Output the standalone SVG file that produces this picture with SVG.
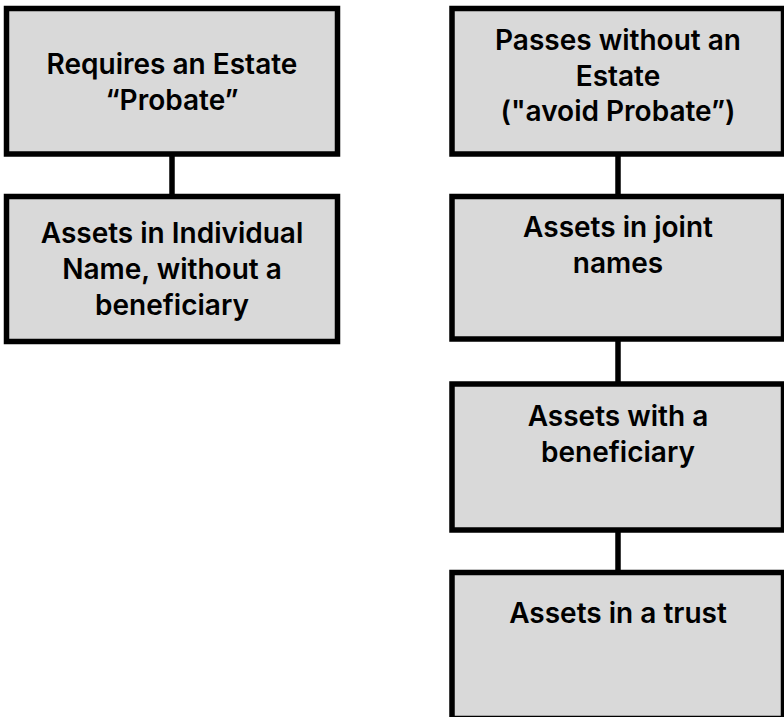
<svg xmlns="http://www.w3.org/2000/svg" width="784" height="717" viewBox="0 0 784 717">
<style>
.box{fill:#d9d9d9;stroke:#000;stroke-width:5.5}
.t{font-family:Inter,"Liberation Sans",sans-serif;font-weight:600;font-size:28px;fill:#000;text-anchor:middle}
.c{stroke:#000;stroke-width:5.5;fill:none}
</style>
<rect width="784" height="717" fill="#fff"/>
<g id="connectors">
<line class="c" x1="172" y1="154" x2="172" y2="197"/>
<line class="c" x1="618" y1="154" x2="618" y2="197"/>
<line class="c" x1="618" y1="339" x2="618" y2="384"/>
<line class="c" x1="618" y1="530" x2="618" y2="573"/>
</g>
<g id="n1">
<rect class="box" x="6.5" y="8.5" width="331" height="145.5"/>
<text class="t" x="172" y="74">Requires an Estate</text>
<text class="t" x="172" y="110">“Probate”</text>
</g>
<g id="n2">
<rect class="box" x="6.5" y="196.5" width="331" height="145"/>
<text class="t" x="172" y="243">Assets in Individual</text>
<text class="t" x="172" y="279">Name, without a</text>
<text class="t" x="172" y="315">beneficiary</text>
</g>
<g id="n3">
<rect class="box" x="452" y="8.5" width="331.5" height="145.5"/>
<text class="t" x="618" y="50">Passes without an</text>
<text class="t" x="618" y="86">Estate</text>
<text class="t" x="618" y="121">("avoid Probate”)</text>
</g>
<g id="n4">
<rect class="box" x="452" y="196.5" width="331.5" height="142.5"/>
<text class="t" x="618" y="237">Assets in joint</text>
<text class="t" x="618" y="273">names</text>
</g>
<g id="n5">
<rect class="box" x="452" y="384" width="331.5" height="146"/>
<text class="t" x="618" y="426">Assets with a</text>
<text class="t" x="618" y="462">beneficiary</text>
</g>
<g id="n6">
<rect class="box" x="452" y="572.5" width="331.5" height="146"/>
<text class="t" x="618" y="623">Assets in a trust</text>
</g>
</svg>
